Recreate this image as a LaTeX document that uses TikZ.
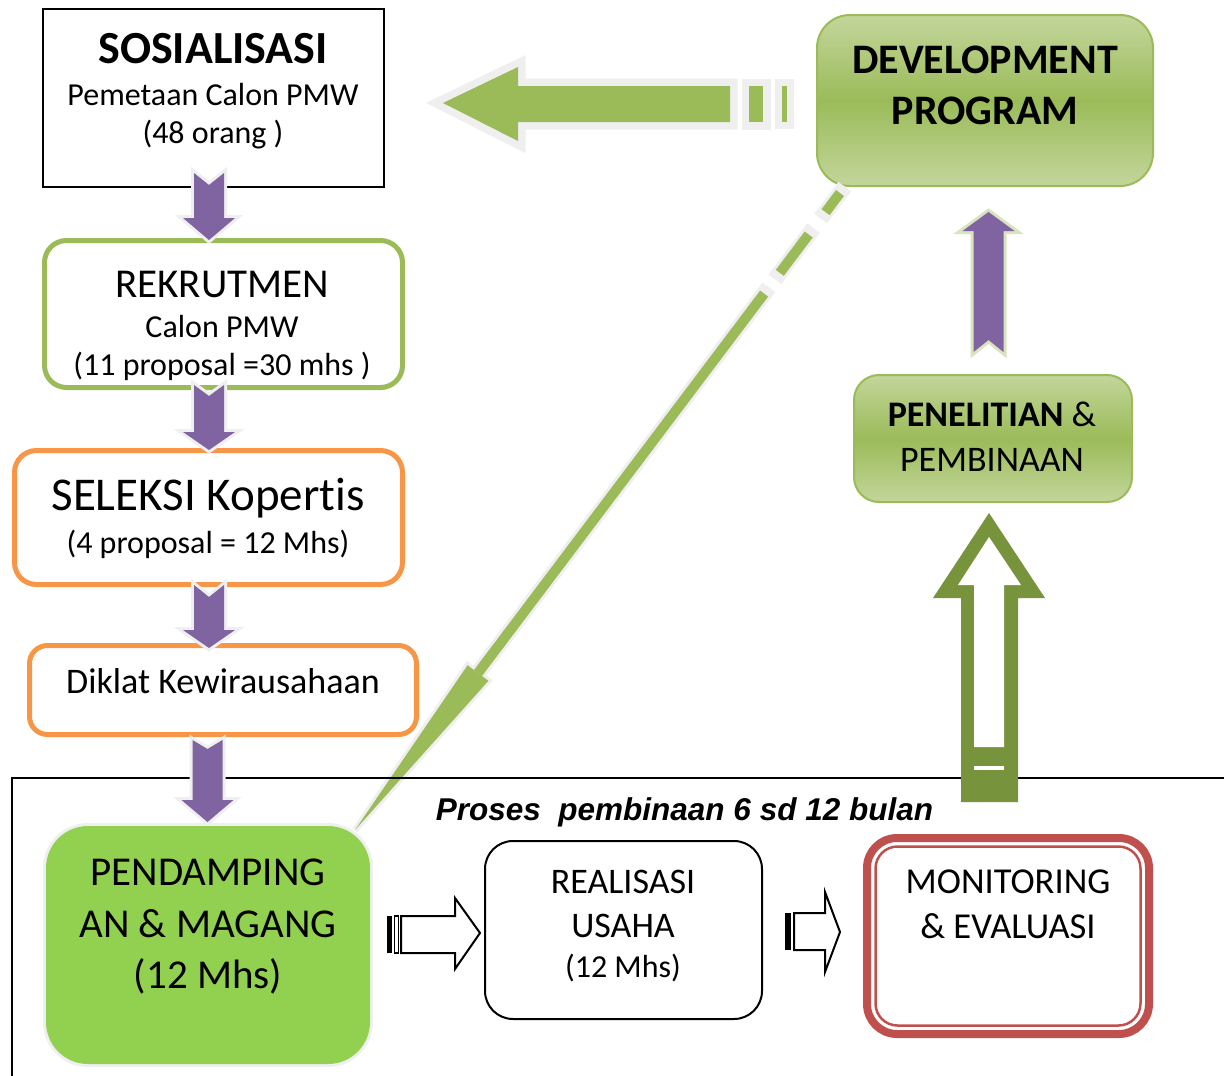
\documentclass[tikz,border=0pt]{standalone}
\usepackage{fontspec}
\setmainfont{Carlito}[Ligatures=NoCommon]
\newfontfamily\arialfont{Liberation Sans}
\newcommand\myfs[1]{\fontsize{#1}{#1}\selectfont}
\definecolor{purp}{HTML}{8064A2}
\definecolor{lgreen}{HTML}{9BBB59}
\definecolor{orng}{HTML}{F79646}
\definecolor{redb}{HTML}{C0504D}
\definecolor{dgreen}{HTML}{77933C}
\definecolor{bgreen}{HTML}{92D050}
\definecolor{glow}{HTML}{EFEFEF}
\definecolor{paleg}{HTML}{C3D69B}
\definecolor{glowg}{HTML}{D7E4BD}
\tikzset{
  every node/.style={inner sep=0pt, outer sep=0pt},
  txt/.style={anchor=base, align=center},
  gbox/.style={draw=lgreen, line width=2pt, top color=paleg, bottom color=paleg, middle color=lgreen},
  purparrow/.style={fill=purp, line join=miter, preaction={draw=glow, line width=6pt, line join=miter}},
  purpup/.style={fill=purp, line join=miter, preaction={draw=glowg, line width=6pt, line join=miter}},
  outarrow/.style={draw=black, line width=2pt, fill=white, line join=miter},
}
\newcommand\pdown[5]{%
  \path[purparrow] (#1-15,#2) -- (#1,#3) -- (#1+15,#2) -- (#1+15,#4) -- (#1+26,#4) -- (#1,#5) -- (#1-26,#4) -- (#1-15,#4) -- cycle;}
\begin{document}
\begin{tikzpicture}[x=1pt,y=-1pt]
\useasboundingbox (0,0) rectangle (1224,1076);

% ---------- boxes ----------
\node[draw=black, line width=2.5pt, minimum width=341pt, minimum height=178pt] (sos) at (213.5,98) {};
\node[draw=lgreen, line width=5pt, rounded corners=22pt, minimum width=358pt, minimum height=147pt] (rek) at (223.5,314) {};
\node[draw=orng, line width=5pt, rounded corners=22pt, minimum width=388pt, minimum height=134pt] (sel) at (208.5,517.5) {};
\node[draw=orng, line width=5pt, rounded corners=18pt, minimum width=387pt, minimum height=89pt] (dik) at (223,690) {};
\node[gbox, rounded corners=33pt, minimum width=336pt, minimum height=171pt] (dev) at (985,100.5) {};
\node[gbox, rounded corners=25pt, minimum width=278pt, minimum height=127pt] (pen) at (993,438.5) {};

% ---------- texts ----------
\node[txt, font=\bfseries\myfs{46}] (t1) at (213,63) {SOSIALISASI};
\node[txt, font=\myfs{32}] (t2) at (213,105) {Pemetaan Calon PMW};
\node[txt, font=\myfs{32}] (t3) at (213,143) {(48 orang )};
\node[txt, font=\myfs{41}] (t4) at (222,297) {REKRUTMEN};
\node[txt, font=\myfs{32}] (t5) at (222,337) {Calon PMW};
\node[txt, font=\myfs{32}] (t6) at (222,375) {(11 proposal =30 mhs )};
\node[txt, font=\myfs{47}] (t7) at (208,510) {SELEKSI Kopertis};
\node[txt, font=\myfs{32}] (t8) at (208,553) {(4 proposal = 12 Mhs)};
\node[txt, font=\myfs{36}] (t9) at (223,693) {Diklat Kewirausahaan};
\node[txt, font=\bfseries\myfs{42}] (t10) at (985,73) {DEVELOPMENT};
\node[txt, font=\bfseries\myfs{42}] (t11) at (985,124) {PROGRAM};
\node[txt, font=\myfs{36}] (t12) at (992,426) {\textbf{PENELITIAN} \&};
\node[txt, font=\myfs{36}] (t13) at (992,471) {PEMBINAAN};

% ---------- diagonal connector ----------
\coordinate (dT) at (840,193);
\coordinate (dB) at (478,673);
\coordinate (dP) at (355,830);
\coordinate (dL) at (467.6,665.2);
\coordinate (dR) at (488.4,680.8);

% ---------- bottom frame ----------
\coordinate (frR) at (1224,778);
\coordinate (frC) at (12,778);
\coordinate (frB) at (12,1076);

\node[fill=bgreen, rounded corners=42pt, minimum width=324pt, minimum height=238pt,
      preaction={draw=glow, line width=6pt, rounded corners=42pt}] (pdm) at (208,945) {};
\node[draw=black, line width=2pt, rounded corners=28pt, minimum width=277pt, minimum height=178pt] (rea) at (623.5,930) {};
\node[draw=redb, line width=8pt, rounded corners=30pt, minimum width=282pt, minimum height=196pt] (mon) at (1008,936) {};
\draw[redb, line width=2.5pt, rounded corners=22pt] ([shift={(8.5,8.5)}]mon.north west) rectangle ([shift={(-8.5,-8.5)}]mon.south east);

\draw[glow, line width=16pt, line cap=rect, dash pattern=on 24pt off 28pt on 48pt off 26pt on 2000pt] (dT) -- (dB);
\draw[glow, line width=6pt, fill=glow] (dL) -- (dP) -- (dR) -- cycle;
\draw[lgreen, line width=10pt, dash pattern=on 24pt off 28pt on 48pt off 26pt on 2000pt] (dT) -- (dB);
\fill[lgreen] (dL) -- (dP) -- (dR) -- cycle;

\draw[line width=2.5pt] (frR) -- (frC) -- (frB);

\node[txt, font=\arialfont\bfseries\itshape\myfs{31.5}] (proses) at (684.5,820) {Proses\ \ pembinaan 6 sd 12 bulan};
\node[txt, font=\myfs{41}] (t14) at (208,885) {PENDAMPING};
\node[txt, font=\myfs{41}] (t15) at (208,937) {AN \& MAGANG};
\node[txt, font=\myfs{41}] (t16) at (208,988) {(12 Mhs)};
\node[txt, font=\myfs{36}] (t17) at (623,893) {REALISASI};
\node[txt, font=\myfs{36}] (t18) at (623,937) {USAHA};
\node[txt, font=\myfs{32}] (t19) at (623,977) {(12 Mhs)};
\node[txt, font=\myfs{36.5}] (t20) at (1008,893) {MONITORING};
\node[txt, font=\myfs{36.5}] (t21) at (1008,938) {\& EVALUASI};

% ---------- purple arrows ----------
\pdown{209}{173}{185}{218}{240}
\pdown{209}{385}{396}{432}{450}
\pdown{209}{585}{597}{630}{648}
\pdown{207.5}{740}{749}{800}{822}
\path[purpup] (973.5,352) -- (988.5,340) -- (1003.5,352) -- (1003.5,231) -- (1014.5,231) -- (988.5,212) -- (962.5,231) -- (973.5,231) -- cycle;

% ---------- big left arrow ----------
\path[fill=lgreen, preaction={draw=glow, line width=15pt, line join=miter, miter limit=20}]
  (443,103) -- (518,67) -- (518,86) -- (730,86) -- (730,122) -- (518,122) -- (518,141) -- cycle;
\path[fill=lgreen, preaction={draw=glow, line width=15pt, line join=miter}] (749,86) rectangle (763,122);
\path[fill=lgreen, preaction={draw=glow, line width=14pt, line join=miter}] (782,86) rectangle (787,122);

% ---------- big outline up arrow ----------
\fill[dgreen] (961,802) -- (961,598) -- (933,598) -- (989,513) -- (1045,598) -- (1018,598) -- (1018,802) -- cycle;
\fill[white] (974,747) -- (974,585) -- (958,585) -- (989,537) -- (1021,585) -- (1004,585) -- (1004,747) -- cycle;
\fill[white] (974,766) rectangle (1004,770);

% ---------- striped block arrows ----------
\fill (387,916) rectangle (392,953);
\draw[line width=1.5pt] (394.5,916) rectangle (398.5,953);
\path[outarrow] (401,916) -- (455,916) -- (455,898) -- (480,933) -- (455,969) -- (455,953) -- (401,953) -- cycle;
\fill (785,913) rectangle (791,950);
\path[outarrow] (794,913) -- (825,913) -- (825,892) -- (840,932) -- (825,972) -- (825,950) -- (794,950) -- cycle;
\end{tikzpicture}
\end{document}
